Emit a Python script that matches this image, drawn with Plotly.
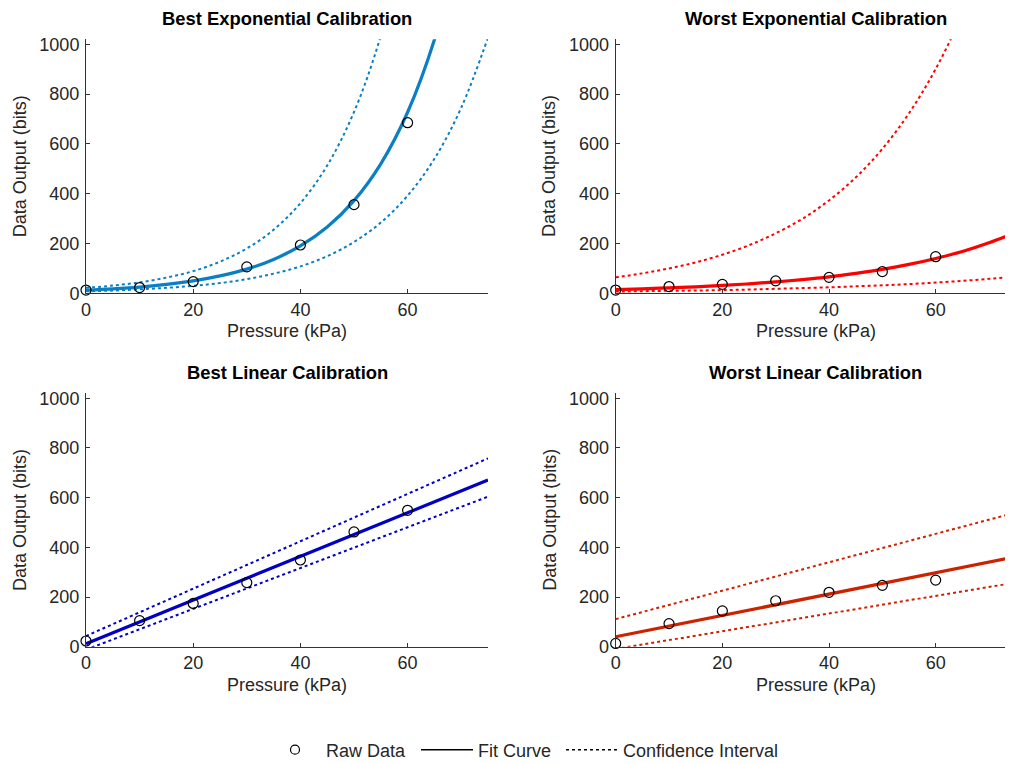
import plotly.graph_objects as go

# ---------------- data ----------------
pressure = [0, 10, 20, 30, 40, 50, 60]

best_exp_raw = [13, 23, 47, 106, 194, 356, 685]
worst_exp_raw = [13, 27, 36, 50, 64, 87, 147]
best_lin_raw = [23, 105, 174, 258, 349, 462, 549]
worst_lin_raw = [13, 93, 144, 185, 219, 247, 268]

curve_x = [0, 5, 10, 15, 20, 25, 30, 35, 40, 45, 50, 55, 60, 65, 70, 75]
best_exp_fit = [13, 18, 25, 36, 50, 70, 97, 136, 190, 266, 372, 520, 727, 1018, 1423, 1990]
best_exp_upper = [22, 31, 44, 63, 89, 127, 180, 255, 362, 513, 728, 1034, 1466, 2080, 2950, 4185]
best_exp_lower = [8, 11, 16, 22, 30, 41, 57, 79, 108, 149, 206, 284, 392, 540, 745, 1027]

worst_exp_fit = [15, 18, 22, 26, 32, 38, 46, 55, 66, 80, 96, 116, 140, 168, 203, 244]
worst_exp_upper = [64, 80, 100, 124, 155, 193, 241, 299, 373, 465, 580, 723, 901, 1123, 1400, 1745]
worst_exp_lower = [7, 8.5, 10, 11, 13, 15, 18, 21, 24, 28, 32, 37, 43, 50, 58, 67]

line_x = [0, 75]
best_lin_fit = [12, 671]
best_lin_upper = [43, 758]
best_lin_lower = [-12, 604]
worst_lin_fit = [40, 362]
worst_lin_upper = [111, 540]
worst_lin_lower = [-9, 258]

titles = ["Best Exponential Calibration", "Worst Exponential Calibration",
          "Best Linear Calibration", "Worst Linear Calibration"]
x_title = "Pressure (kPa)"
y_title = "Data Output (bits)"
legend_labels = ["Raw Data", "Fit Curve", "Confidence Interval"]
y_ticks = [0, 200, 400, 600, 800, 1000]
x_ticks = [0, 20, 40, 60]

# ---------------- layout helpers ----------------
# the page body has an 8px margin, so the figure is drawn 8px right/down
OFF = 8
W, H = 1013 - OFF, 764 - OFF
FONT = "Liberation Sans, Arial, sans-serif"
TXT = "#262626"


def px(x):
    """page x pixel -> paper fraction"""
    return (x - OFF) / W


def py(y):
    """page y pixel -> paper fraction"""
    return 1 - (y - OFF) / H


panels = [
    # (axis suffix, x_dom(page px), y_dom(page px), xrange, color, raw, fit_x, fit, upper, lower)
    ("", (86, 488), (293.3, 39.3), [0, 75], "#0a7fc4",
     best_exp_raw, curve_x, best_exp_fit, best_exp_upper, best_exp_lower),
    ("2", (615.7, 1013), (293.3, 39.3), [0, 74.5], "#ff0000",
     worst_exp_raw, curve_x, worst_exp_fit, worst_exp_upper, worst_exp_lower),
    ("3", (86, 488), (646.7, 393.3), [0, 75], "#0000c4",
     best_lin_raw, line_x, best_lin_fit, best_lin_upper, best_lin_lower),
    ("4", (615.7, 1013), (646.7, 393.3), [0, 74.5], "#cc2200",
     worst_lin_raw, line_x, worst_lin_fit, worst_lin_upper, worst_lin_lower),
]

fig = go.Figure()
layout = dict(
    width=W, height=H,
    margin=dict(l=0, r=0, t=0, b=0, autoexpand=False),
    paper_bgcolor="white", plot_bgcolor="white",
    font=dict(family=FONT, size=18, color=TXT),
    showlegend=True,
)

annotations = []
for i, (suf, xp, yp, xr, col, raw, fx, fit, up, lo) in enumerate(panels):
    xa, ya = "x" + suf, "y" + suf
    shape = "spline" if len(fx) > 2 else "linear"
    for ci in (up, lo):
        fig.add_trace(go.Scatter(x=fx, y=ci, mode="lines", xaxis=xa, yaxis=ya,
                                 line=dict(color=col, width=2, dash="dot", shape=shape),
                                 showlegend=False, hoverinfo="skip"))
    fig.add_trace(go.Scatter(x=fx, y=fit, mode="lines", xaxis=xa, yaxis=ya,
                             line=dict(color=col, width=3.2, shape=shape),
                             showlegend=False))
    fig.add_trace(go.Scatter(x=pressure, y=raw, mode="markers", xaxis=xa, yaxis=ya,
                             marker=dict(symbol="circle-open", size=10,
                                         color="black", line=dict(width=1.2)),
                             cliponaxis=False, showlegend=False))
    axcommon = dict(showline=True, linecolor="#333", linewidth=1, showgrid=False,
                    zeroline=False, ticks="inside", ticklen=4, tickcolor="#333",
                    automargin=False,
                    tickfont=dict(family=FONT, size=18, color=TXT))
    layout["xaxis" + suf] = dict(domain=[px(xp[0]), min(1.0, px(xp[1]))], range=xr,
                                 anchor=ya, tickvals=x_ticks, **axcommon)
    layout["yaxis" + suf] = dict(domain=[py(yp[0]), py(yp[1])], range=[0, 1020],
                                 anchor=xa, tickvals=y_ticks, ticklabelstandoff=2,
                                 **axcommon)
    xl = xp[0]
    xrgt = xl + (xp[1] - xp[0]) * 75 / xr[1]
    cx = (xl + xrgt) / 2
    ybot, ytop = yp
    annotations.append(dict(text="<b>" + titles[i] + "</b>", xref="paper", yref="paper",
                            x=px(cx), y=py(ytop - 21), xanchor="center", yanchor="middle",
                            showarrow=False,
                            font=dict(family=FONT, size=18.4, color="black")))
    annotations.append(dict(text=x_title, xref="paper", yref="paper",
                            x=px(cx), y=py(ybot + 38), xanchor="center", yanchor="middle",
                            showarrow=False,
                            font=dict(family=FONT, size=18, color=TXT)))
    annotations.append(dict(text=y_title, xref="paper", yref="paper",
                            x=px(xl - 66), y=py((ytop + ybot) / 2),
                            xanchor="center", yanchor="middle", showarrow=False,
                            textangle=-90, font=dict(family=FONT, size=18, color=TXT)))

# legend entries
fig.add_trace(go.Scatter(x=[None], y=[None], mode="markers", name=legend_labels[0],
                         legendwidth=85,
                         marker=dict(symbol="circle-open", size=9, color="black",
                                     line=dict(width=1.2))))
fig.add_trace(go.Scatter(x=[None], y=[None], mode="lines", name=legend_labels[1],
                         legendwidth=78,
                         line=dict(color="black", width=1.5)))
fig.add_trace(go.Scatter(x=[None], y=[None], mode="lines", name=legend_labels[2],
                         line=dict(color="black", width=1.5, dash="dot")))

layout["legend"] = dict(orientation="h", x=px(264), xanchor="left", y=py(750),
                        yanchor="middle", itemwidth=52, bgcolor="rgba(0,0,0,0)",
                        font=dict(family=FONT, size=18, color=TXT), tracegroupgap=0)
layout["annotations"] = annotations
fig.update_layout(**layout)
fig.write_html("out.html")
